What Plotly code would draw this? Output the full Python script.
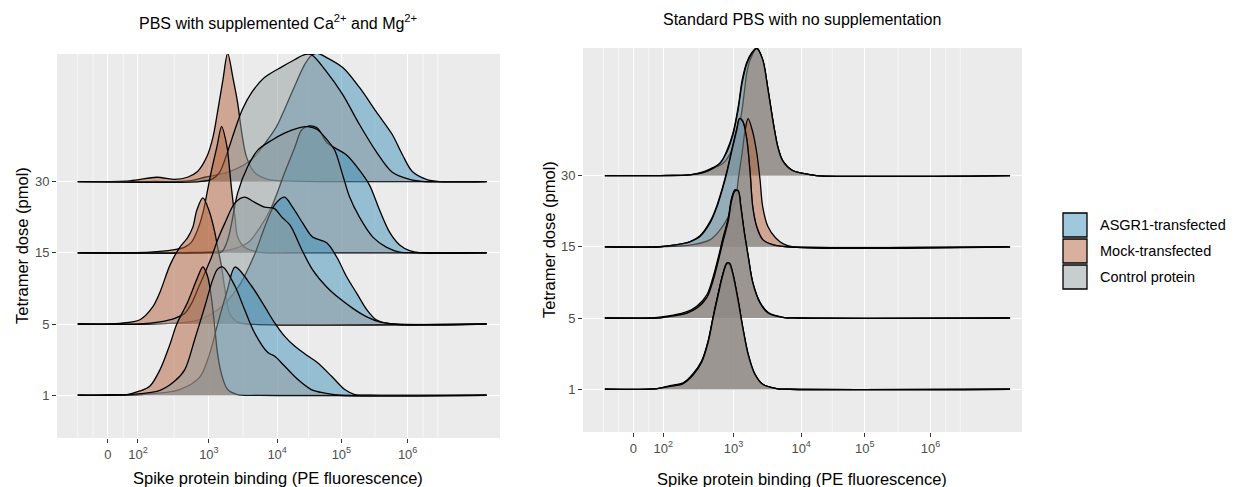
import plotly.graph_objects as go

# ---------------- data ----------------
DOSES = ["1", "5", "15", "30"]                      # ridge categories (bottom -> top)
GROUPS = ["ASGR1-transfected", "Mock-transfected", "Control protein"]
GROUP_COLORS = ["rgba(65,145,185,0.5)", "rgba(178,98,60,0.5)", "rgba(145,155,158,0.5)"]

# x axis: biexponential (logicle) scale positions and labels
TICK_POS = [0, 0.45, 1.51, 2.53, 3.49, 4.48]
TICK_TEXT = ["0", "10<sup>2</sup>", "10<sup>3</sup>", "10<sup>4</sup>", "10<sup>5</sup>", "10<sup>6</sup>"]
MINOR_GRID = [-0.45, -0.22, 0.23, 0.99, 2.02, 3.0, 3.99, 4.71, 4.93]

# ---- Panel 1: PBS with Ca2+/Mg2+ (x = logicle position, h = scaled density) ----
CA_30_ASGR1_X = [-0.45, 0.63, 1.22, 1.45, 1.82, 2.15, 2.39, 2.52, 2.75, 2.94, 3.04, 3.13, 3.27, 3.51, 3.76, 4.01, 4.25, 4.40, 4.55, 4.76, 4.96, 5.66]
CA_30_ASGR1_H = [0, 0, 0.01, 0.06, 0.14, 0.31, 0.59, 0.77, 1.25, 1.64, 1.77, 1.80, 1.74, 1.60, 1.32, 0.98, 0.66, 0.38, 0.14, 0.03, 0, 0]
CA_30_MOCK_X = [-0.45, 0.33, 0.73, 1.00, 1.19, 1.34, 1.48, 1.57, 1.64, 1.72, 1.79, 1.87, 1.94, 2.00, 2.07, 2.19, 2.39, 2.72, 3.16, 5.66]
CA_30_MOCK_H = [0, 0.01, 0.06, 0.03, 0.06, 0.14, 0.35, 0.62, 0.98, 1.43, 1.80, 1.45, 1.10, 0.69, 0.35, 0.13, 0.03, 0.01, 0, 0]
CA_30_CTRL_X = [-0.45, 1.37, 1.55, 1.67, 1.79, 1.90, 2.01, 2.15, 2.34, 2.60, 2.79, 2.94, 3.04, 3.27, 3.51, 3.76, 4.01, 4.25, 4.51, 4.73, 5.66]
CA_30_CTRL_H = [0, 0, 0.03, 0.13, 0.42, 0.73, 1.01, 1.25, 1.46, 1.61, 1.71, 1.78, 1.78, 1.54, 1.22, 0.80, 0.42, 0.13, 0.03, 0, 0]

CA_15_ASGR1_X = [-0.45, 1.07, 1.82, 2.09, 2.27, 2.45, 2.64, 2.79, 2.90, 3.01, 3.13, 3.28, 3.57, 3.76, 3.91, 4.06, 4.21, 4.36, 4.51, 4.66, 5.66]
CA_15_ASGR1_H = [0, 0, 0.04, 0.14, 0.35, 0.65, 1.12, 1.47, 1.73, 1.78, 1.75, 1.54, 1.37, 1.16, 0.95, 0.60, 0.29, 0.11, 0.03, 0, 0]
CA_15_MOCK_X = [-0.45, 0.63, 0.97, 1.15, 1.25, 1.34, 1.42, 1.49, 1.55, 1.63, 1.70, 1.78, 1.82, 1.85, 1.90, 1.94, 2.04, 2.24, 2.72, 5.66]
CA_15_MOCK_H = [0, 0.01, 0.04, 0.08, 0.15, 0.32, 0.56, 0.88, 1.16, 1.49, 1.77, 1.49, 1.16, 0.88, 0.50, 0.22, 0.08, 0.01, 0, 0]
CA_15_CTRL_X = [-0.45, 1.52, 1.70, 1.79, 1.85, 1.94, 2.09, 2.24, 2.45, 2.64, 2.84, 2.99, 3.13, 3.28, 3.39, 3.51, 3.61, 3.76, 3.96, 4.16, 4.36, 4.58, 5.66]
CA_15_CTRL_H = [0, 0, 0.01, 0.18, 0.42, 0.84, 1.21, 1.44, 1.58, 1.68, 1.75, 1.77, 1.73, 1.58, 1.44, 1.09, 0.79, 0.50, 0.22, 0.08, 0.01, 0, 0]

CA_5_ASGR1_X = [-0.45, 0.63, 1.22, 1.37, 1.67, 1.97, 2.19, 2.34, 2.49, 2.64, 2.76, 2.91, 3.06, 3.27, 3.42, 3.57, 3.72, 3.87, 4.01, 4.25, 5.66]
CA_5_ASGR1_H = [0, 0, 0.03, 0.06, 0.22, 0.55, 0.97, 1.35, 1.67, 1.78, 1.64, 1.42, 1.22, 1.14, 0.94, 0.66, 0.43, 0.20, 0.06, 0, 0]
CA_5_MOCK_X = [-0.45, 0.18, 0.48, 0.67, 0.78, 0.93, 1.07, 1.19, 1.27, 1.33, 1.42, 1.52, 1.60, 1.64, 1.70, 1.75, 1.82, 1.93, 2.12, 5.66]
CA_5_MOCK_H = [0, 0.01, 0.06, 0.24, 0.45, 0.83, 1.07, 1.21, 1.36, 1.60, 1.77, 1.57, 1.28, 1.08, 0.80, 0.48, 0.15, 0.03, 0, 0]
CA_5_CTRL_X = [-0.45, 0.48, 0.78, 1.00, 1.15, 1.25, 1.34, 1.45, 1.55, 1.64, 1.75, 1.90, 2.04, 2.19, 2.34, 2.49, 2.60, 2.72, 2.90, 3.06, 3.27, 3.46, 3.66, 3.87, 4.06, 4.28, 5.66]
CA_5_CTRL_H = [0, 0, 0.03, 0.08, 0.15, 0.29, 0.48, 0.72, 0.94, 1.18, 1.42, 1.70, 1.78, 1.71, 1.64, 1.62, 1.50, 1.39, 1.04, 0.76, 0.52, 0.36, 0.22, 0.10, 0.03, 0, 0]

CA_1_ASGR1_X = [-0.45, 0.48, 1.07, 1.37, 1.52, 1.64, 1.79, 1.90, 2.15, 2.34, 2.49, 2.64, 2.79, 2.99, 3.13, 3.34, 3.54, 3.69, 3.91, 5.66]
CA_1_ASGR1_H = [0, 0.01, 0.08, 0.25, 0.58, 1.00, 1.49, 1.80, 1.53, 1.25, 1.02, 0.83, 0.69, 0.55, 0.46, 0.27, 0.08, 0.01, 0, 0]
CA_1_MOCK_X = [-0.45, 0.03, 0.28, 0.48, 0.63, 0.78, 0.93, 1.03, 1.18, 1.25, 1.33, 1.42, 1.49, 1.55, 1.60, 1.64, 1.70, 1.79, 1.94, 2.27, 5.66]
CA_1_MOCK_H = [0, 0.01, 0.01, 0.06, 0.13, 0.36, 0.72, 1.00, 1.28, 1.44, 1.63, 1.80, 1.67, 1.35, 0.93, 0.58, 0.29, 0.08, 0.01, 0, 0]
CA_1_CTRL_X = [-0.45, 0.33, 0.78, 1.00, 1.15, 1.30, 1.45, 1.57, 1.64, 1.72, 1.90, 2.04, 2.19, 2.39, 2.49, 2.64, 2.84, 3.04, 3.24, 3.46, 5.66]
CA_1_CTRL_H = [0, 0.01, 0.07, 0.20, 0.36, 0.79, 1.25, 1.63, 1.77, 1.80, 1.53, 1.21, 0.88, 0.60, 0.55, 0.41, 0.22, 0.08, 0.03, 0, 0]

# ---- Panel 2: standard PBS ----
NO_30_ASGR1_X = [-0.43, 0.40, 0.85, 1.05, 1.20, 1.31, 1.41, 1.50, 1.58, 1.64, 1.71, 1.79, 1.86, 1.95, 2.03, 2.11, 2.18, 2.25, 2.40, 2.55, 2.76, 5.68]
NO_30_ASGR1_H = [0, 0, 0.01, 0.05, 0.11, 0.17, 0.35, 0.59, 0.96, 1.34, 1.59, 1.73, 1.79, 1.62, 1.20, 0.73, 0.39, 0.21, 0.07, 0.03, 0, 0]
NO_30_MOCK_X = [-0.43, 0.40, 0.55, 0.85, 1.05, 1.20, 1.35, 1.46, 1.54, 1.62, 1.67, 1.71, 1.76, 1.86, 1.95, 2.03, 2.11, 2.18, 2.25, 2.40, 2.55, 2.76, 5.68]
NO_30_MOCK_H = [0, 0, 0.0, 0.01, 0.04, 0.10, 0.17, 0.31, 0.54, 0.82, 1.15, 1.44, 1.62, 1.79, 1.62, 1.20, 0.73, 0.39, 0.21, 0.07, 0.03, 0, 0]
NO_30_CTRL_X = [-0.43, 0.40, 0.85, 1.05, 1.20, 1.31, 1.41, 1.50, 1.58, 1.64, 1.71, 1.79, 1.86, 1.95, 2.03, 2.11, 2.18, 2.25, 2.40, 2.55, 2.76, 5.68]
NO_30_CTRL_H = [0, 0, 0.01, 0.04, 0.10, 0.18, 0.33, 0.57, 0.93, 1.30, 1.57, 1.72, 1.78, 1.63, 1.21, 0.74, 0.40, 0.21, 0.07, 0.03, 0, 0]

NO_15_ASGR1_X = [-0.43, 0.40, 0.66, 0.85, 1.00, 1.16, 1.26, 1.34, 1.41, 1.49, 1.56, 1.60, 1.65, 1.71, 1.76, 1.80, 1.86, 1.95, 2.10, 2.32, 5.68]
NO_15_ASGR1_H = [0, 0, 0.03, 0.07, 0.15, 0.36, 0.58, 0.82, 1.06, 1.39, 1.66, 1.80, 1.76, 1.51, 1.04, 0.56, 0.28, 0.10, 0.03, 0, 0]
NO_15_MOCK_X = [-0.43, 0.40, 0.90, 1.16, 1.31, 1.43, 1.54, 1.58, 1.64, 1.68, 1.73, 1.80, 1.86, 1.91, 1.95, 2.03, 2.14, 2.26, 2.41, 5.68]
NO_15_MOCK_H = [0, 0, 0.03, 0.10, 0.24, 0.42, 0.66, 0.94, 1.32, 1.61, 1.80, 1.61, 1.32, 0.94, 0.56, 0.28, 0.13, 0.04, 0, 0]
NO_15_CTRL_X = [-0.43, 0.40, 0.66, 0.85, 1.00, 1.16, 1.26, 1.34, 1.41, 1.49, 1.56, 1.60, 1.65, 1.71, 1.76, 1.80, 1.86, 1.95, 2.10, 2.32, 5.68]
NO_15_CTRL_H = [0, 0, 0.03, 0.07, 0.14, 0.34, 0.56, 0.80, 1.04, 1.37, 1.65, 1.80, 1.76, 1.51, 1.04, 0.56, 0.28, 0.10, 0.03, 0, 0]

NO_5_ASGR1_X = [-0.43, 0.36, 0.60, 0.81, 0.96, 1.11, 1.20, 1.28, 1.35, 1.43, 1.48, 1.53, 1.58, 1.62, 1.67, 1.73, 1.80, 1.91, 2.03, 2.25, 2.51, 5.68]
NO_5_ASGR1_H = [0, 0, 0.03, 0.07, 0.15, 0.30, 0.54, 0.82, 1.10, 1.38, 1.66, 1.80, 1.78, 1.55, 1.20, 0.86, 0.49, 0.21, 0.07, 0.01, 0, 0]
NO_5_MOCK_X = [-0.43, 0.36, 0.60, 0.81, 0.96, 1.11, 1.20, 1.28, 1.35, 1.43, 1.48, 1.53, 1.58, 1.62, 1.67, 1.73, 1.80, 1.91, 2.03, 2.25, 2.51, 5.68]
NO_5_MOCK_H = [0, 0.01, 0.04, 0.09, 0.17, 0.33, 0.57, 0.85, 1.12, 1.40, 1.68, 1.79, 1.77, 1.55, 1.22, 0.87, 0.50, 0.22, 0.08, 0.01, 0, 0]
NO_5_CTRL_X = [-0.43, 0.36, 0.60, 0.81, 0.96, 1.11, 1.20, 1.28, 1.35, 1.43, 1.48, 1.53, 1.58, 1.62, 1.67, 1.73, 1.80, 1.91, 2.03, 2.25, 2.51, 5.68]
NO_5_CTRL_H = [0, 0, 0.03, 0.07, 0.14, 0.29, 0.52, 0.80, 1.07, 1.36, 1.64, 1.78, 1.79, 1.57, 1.22, 0.88, 0.50, 0.21, 0.07, 0.01, 0, 0]

NO_1_ASGR1_X = [-0.43, 0.36, 0.55, 0.75, 0.90, 1.03, 1.13, 1.20, 1.28, 1.35, 1.41, 1.45, 1.50, 1.58, 1.65, 1.73, 1.83, 1.95, 2.16, 2.36, 5.68]
NO_1_ASGR1_H = [0, 0.01, 0.04, 0.08, 0.21, 0.39, 0.68, 1.00, 1.34, 1.62, 1.77, 1.76, 1.62, 1.24, 0.86, 0.49, 0.21, 0.07, 0.01, 0, 0]
NO_1_MOCK_X = [-0.43, 0.36, 0.55, 0.75, 0.90, 1.03, 1.13, 1.20, 1.28, 1.35, 1.41, 1.45, 1.50, 1.58, 1.65, 1.73, 1.83, 1.95, 2.16, 2.36, 5.68]
NO_1_MOCK_H = [0, 0.01, 0.05, 0.09, 0.22, 0.40, 0.69, 1.01, 1.35, 1.62, 1.76, 1.75, 1.60, 1.23, 0.85, 0.48, 0.21, 0.07, 0.01, 0, 0]
NO_1_CTRL_X = [-0.43, 0.36, 0.55, 0.75, 0.90, 1.03, 1.13, 1.20, 1.28, 1.35, 1.41, 1.45, 1.50, 1.58, 1.65, 1.73, 1.83, 1.95, 2.16, 2.36, 5.68]
NO_1_CTRL_H = [0, 0.01, 0.04, 0.08, 0.20, 0.38, 0.67, 0.99, 1.33, 1.61, 1.77, 1.77, 1.63, 1.25, 0.87, 0.50, 0.22, 0.07, 0.01, 0, 0]

PANEL_TITLES = ["PBS with supplemented Ca<sup>2+</sup> and Mg<sup>2+</sup>",
                "Standard PBS with no supplementation"]
X_TITLE = "Spike protein binding (PE fluorescence)"
Y_TITLE = "Tetramer dose (pmol)"

PANELS = [
    {"30": [(CA_30_ASGR1_X, CA_30_ASGR1_H), (CA_30_MOCK_X, CA_30_MOCK_H), (CA_30_CTRL_X, CA_30_CTRL_H)],
     "15": [(CA_15_ASGR1_X, CA_15_ASGR1_H), (CA_15_MOCK_X, CA_15_MOCK_H), (CA_15_CTRL_X, CA_15_CTRL_H)],
     "5": [(CA_5_ASGR1_X, CA_5_ASGR1_H), (CA_5_MOCK_X, CA_5_MOCK_H), (CA_5_CTRL_X, CA_5_CTRL_H)],
     "1": [(CA_1_ASGR1_X, CA_1_ASGR1_H), (CA_1_MOCK_X, CA_1_MOCK_H), (CA_1_CTRL_X, CA_1_CTRL_H)]},
    {"30": [(NO_30_ASGR1_X, NO_30_ASGR1_H), (NO_30_MOCK_X, NO_30_MOCK_H), (NO_30_CTRL_X, NO_30_CTRL_H)],
     "15": [(NO_15_ASGR1_X, NO_15_ASGR1_H), (NO_15_MOCK_X, NO_15_MOCK_H), (NO_15_CTRL_X, NO_15_CTRL_H)],
     "5": [(NO_5_ASGR1_X, NO_5_ASGR1_H), (NO_5_MOCK_X, NO_5_MOCK_H), (NO_5_CTRL_X, NO_5_CTRL_H)],
     "1": [(NO_1_ASGR1_X, NO_1_ASGR1_H), (NO_1_MOCK_X, NO_1_MOCK_H), (NO_1_CTRL_X, NO_1_CTRL_H)]},
]

# ---------------- figure ----------------
W, H = 1247, 487
FONT = "Liberation Sans, Arial, sans-serif"
fig = go.Figure()

for p, panel in enumerate(PANELS):
    xa = "x" if p == 0 else "x2"
    ya = "y" if p == 0 else "y2"
    for dose in ["30", "15", "5", "1"]:
        base = DOSES.index(dose) + 1
        for g, (xs, hs) in enumerate(panel[dose]):
            fig.add_trace(go.Scatter(
                x=xs, y=[base + h for h in hs], xaxis=xa, yaxis=ya,
                mode="lines", fill="toself", fillcolor=GROUP_COLORS[g],
                line=dict(color="black", width=1.3, shape="spline", smoothing=0.9),
                name=GROUPS[g], showlegend=False, hoverinfo="skip"))

common_x = dict(range=[-0.76, 5.86], tickmode="array", tickvals=TICK_POS, ticktext=TICK_TEXT,
                showgrid=True, gridcolor="white", gridwidth=1.3, zeroline=False,
                ticks="outside", ticklen=4, tickwidth=1, tickcolor="#333333",
                tickfont=dict(size=13, color="#4D4D4D", family=FONT), showline=False)
common_y = dict(range=[0.4, 5.79], tickmode="array", tickvals=[1, 2, 3, 4], ticktext=DOSES,
                showgrid=True, gridcolor="white", gridwidth=1.3, zeroline=False,
                ticks="outside", ticklen=4, tickwidth=1, tickcolor="#333333",
                tickfont=dict(size=13, color="#4D4D4D", family=FONT), showline=False)

fig.update_layout(
    width=W, height=H, margin=dict(l=0, r=0, t=0, b=0),
    paper_bgcolor="white", plot_bgcolor="#EBEBEB", showlegend=False,
    font=dict(family=FONT, color="black"),
    xaxis=dict(domain=[57 / W, 500 / W], anchor="y", **common_x),
    yaxis=dict(domain=[1 - 438 / H, 1 - 54 / H], anchor="x", **common_y),
    xaxis2=dict(domain=[583 / W, 1022 / W], anchor="y2", **common_x),
    yaxis2=dict(domain=[1 - 432 / H, 1 - 48 / H], anchor="x2", **common_y),
)

shapes = []
for xr, yr in [("x", "y domain"), ("x2", "y2 domain")]:
    for v in MINOR_GRID:
        shapes.append(dict(type="line", xref=xr, yref=yr, x0=v, x1=v, y0=0, y1=1,
                           line=dict(color="white", width=0.6), layer="below"))

# legend (manual, ggplot-style keys)
leg_rows = [213, 239, 265]
annotations = []
for g, top in enumerate(leg_rows):
    shapes.append(dict(type="rect", xref="paper", yref="paper",
                       x0=1063 / W, x1=1087 / W, y0=1 - (top + 24) / H, y1=1 - top / H,
                       fillcolor=GROUP_COLORS[g], line=dict(color="black", width=1.3)))
    annotations.append(dict(text=GROUPS[g], xref="paper", yref="paper", x=1098 / W, y=1 - (top + 12) / H,
                            xanchor="left", yanchor="middle", showarrow=False,
                            font=dict(size=14.5, color="black", family=FONT)))

annotations += [
    dict(text=PANEL_TITLES[0], x=278 / W, y=1 - 22 / H, xref="paper", yref="paper", showarrow=False,
         xanchor="center", yanchor="middle", font=dict(size=16, color="black", family=FONT)),
    dict(text=PANEL_TITLES[1], x=802 / W, y=1 - 20 / H, xref="paper", yref="paper", showarrow=False,
         xanchor="center", yanchor="middle", font=dict(size=16, color="black", family=FONT)),
    dict(text=X_TITLE, x=278 / W, y=1 - 478 / H, xref="paper", yref="paper", showarrow=False,
         xanchor="center", yanchor="middle", font=dict(size=16.5, color="black", family=FONT)),
    dict(text=X_TITLE, x=802 / W, y=1 - 479 / H, xref="paper", yref="paper", showarrow=False,
         xanchor="center", yanchor="middle", font=dict(size=16.5, color="black", family=FONT)),
    dict(text=Y_TITLE, x=22 / W, y=1 - 246 / H, xref="paper", yref="paper", showarrow=False, textangle=-90,
         xanchor="center", yanchor="middle", font=dict(size=16.5, color="black", family=FONT)),
    dict(text=Y_TITLE, x=549 / W, y=1 - 240 / H, xref="paper", yref="paper", showarrow=False, textangle=-90,
         xanchor="center", yanchor="middle", font=dict(size=16.5, color="black", family=FONT)),
]

fig.update_layout(shapes=shapes, annotations=annotations)
fig.write_html("out.html")
